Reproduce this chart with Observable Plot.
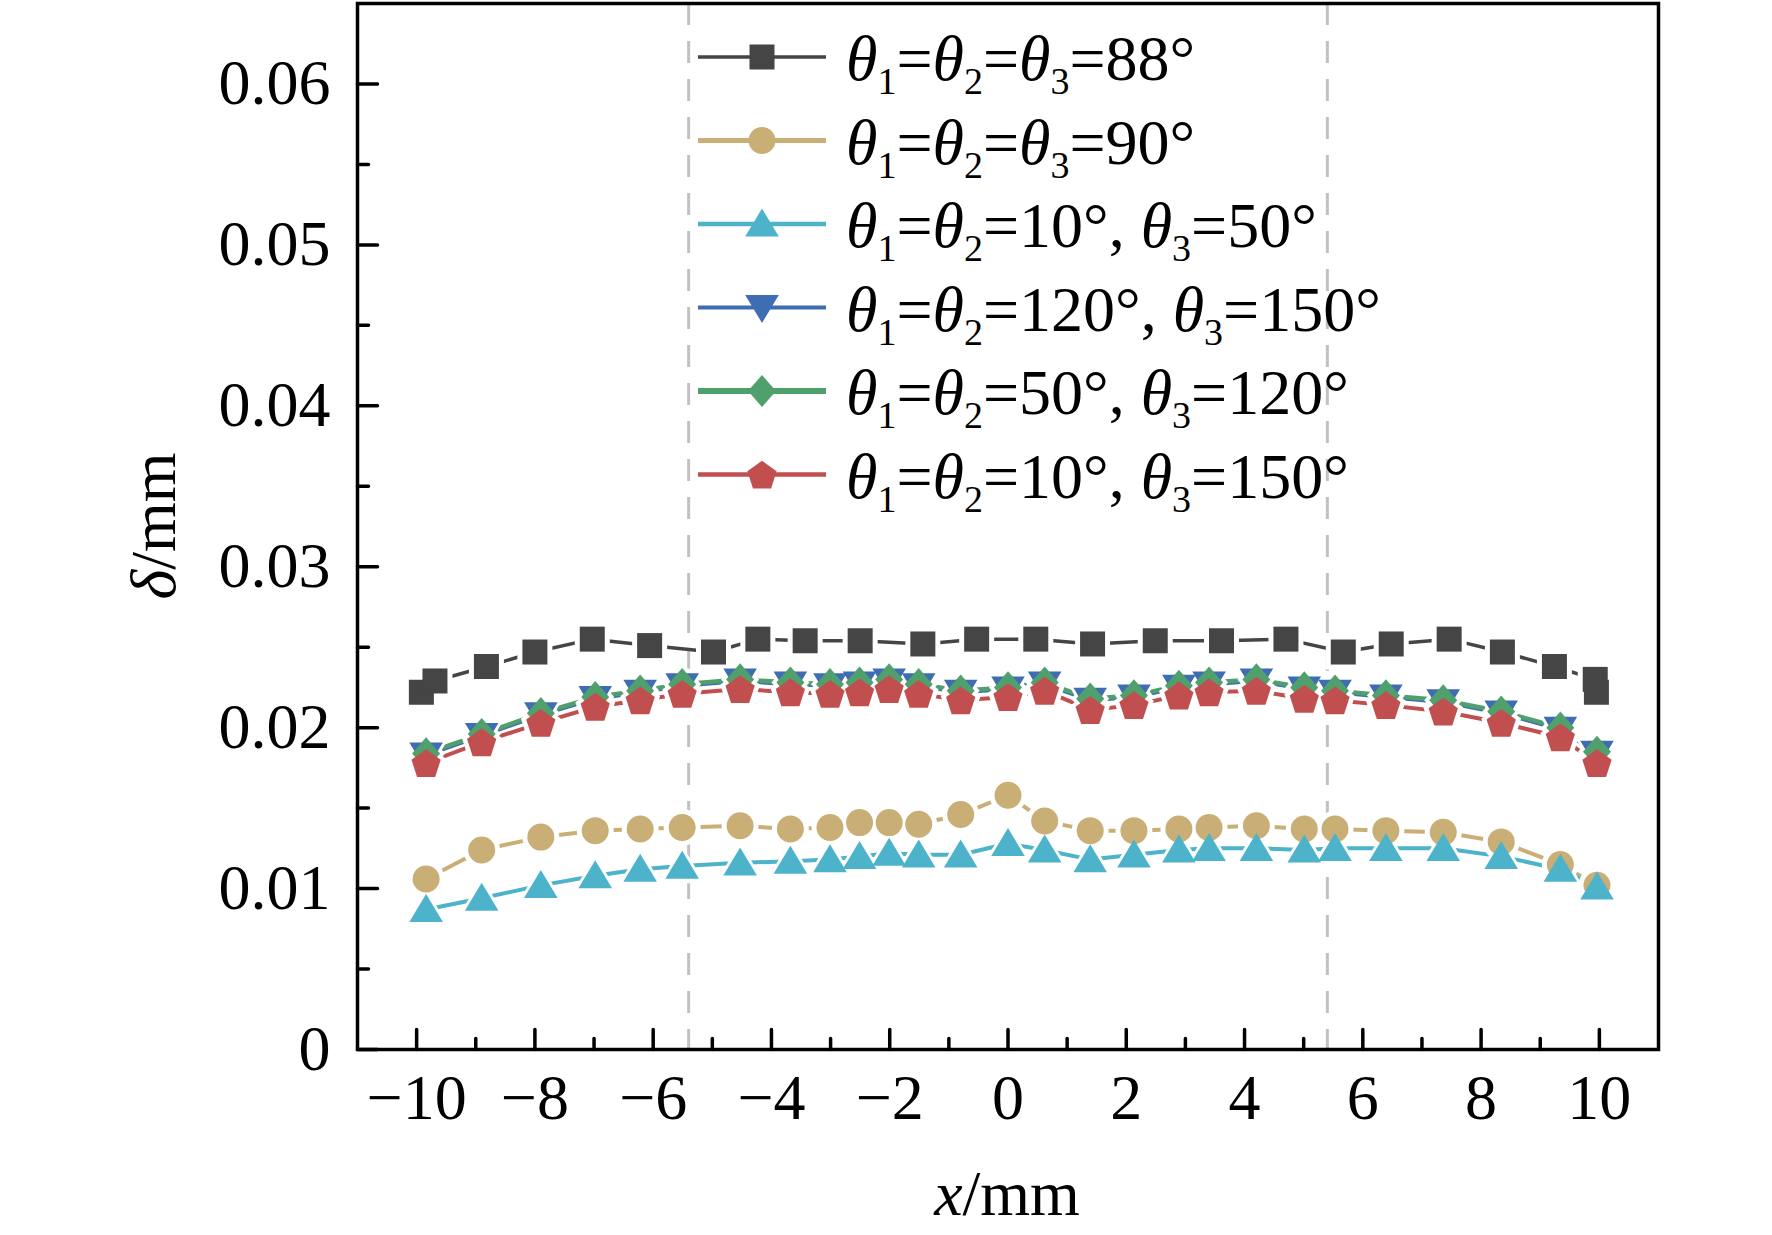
<!DOCTYPE html>
<html><head><meta charset="utf-8">
<script src="https://cdn.jsdelivr.net/npm/d3@7"></script>
<script src="https://cdn.jsdelivr.net/npm/@observablehq/plot@0.6"></script>
<style>html,body{margin:0;padding:0;background:#fff;} #chart{width:1772px;height:1235px;}</style>
</head><body><div id="chart"></div>
<script>
// ---------- data ----------
const squareX = [-9.92, -9.69, -8.82, -8.00, -7.03, -6.06, -4.98, -4.23, -3.43, -2.50, -1.44, -0.53, 0.47, 1.43, 2.49, 3.61, 4.70, 5.67, 6.48, 7.46, 8.36, 9.24, 9.93, 9.95];
const squareY = [0.0222, 0.0229, 0.0238, 0.0247, 0.0255, 0.0251, 0.0247, 0.0255, 0.0254, 0.0254, 0.0252, 0.0255, 0.0255, 0.0252, 0.0254, 0.0254, 0.0255, 0.0247, 0.0252, 0.0255, 0.0247, 0.0238, 0.0230, 0.0222];
const sharedX = [-9.84, -8.90, -7.90, -6.98, -6.22, -5.51, -4.53, -3.68, -3.01, -2.51, -2.01, -1.51, -0.80, 0.00, 0.62, 1.39, 2.13, 2.89, 3.40, 4.20, 5.01, 5.53, 6.39, 7.36, 8.34, 9.34, 9.96];
const tanY   = [0.0106, 0.0124, 0.0132, 0.0136, 0.0137, 0.0138, 0.0139, 0.0137, 0.0138, 0.0141, 0.0141, 0.0140, 0.0146, 0.0158, 0.0142, 0.0136, 0.0136, 0.0137, 0.0138, 0.0139, 0.0137, 0.0137, 0.0136, 0.0135, 0.0129, 0.0115, 0.0102];
const cyanY  = [0.0087, 0.0094, 0.0102, 0.0108, 0.0112, 0.0114, 0.0116, 0.0117, 0.0118, 0.0120, 0.0122, 0.0121, 0.0121, 0.0128, 0.0124, 0.0118, 0.0121, 0.0124, 0.0125, 0.0125, 0.0124, 0.0125, 0.0125, 0.0125, 0.0120, 0.0112, 0.0101];
const blueY  = [0.0183, 0.0195, 0.0208, 0.0218, 0.0222, 0.0226, 0.0229, 0.0227, 0.0226, 0.0227, 0.0229, 0.0226, 0.0222, 0.0224, 0.0227, 0.0217, 0.0219, 0.0225, 0.0227, 0.0229, 0.0224, 0.0222, 0.0219, 0.0216, 0.0209, 0.0199, 0.0184];
const greenY = [0.0184, 0.0196, 0.0209, 0.0219, 0.0223, 0.0227, 0.0230, 0.0228, 0.0227, 0.0228, 0.0230, 0.0227, 0.0223, 0.0225, 0.0228, 0.0218, 0.0220, 0.0226, 0.0228, 0.0230, 0.0225, 0.0223, 0.0220, 0.0217, 0.0210, 0.0200, 0.0185];
const redY   = [0.0178, 0.0191, 0.0203, 0.0213, 0.0217, 0.0221, 0.0224, 0.0222, 0.0221, 0.0222, 0.0224, 0.0221, 0.0217, 0.0219, 0.0223, 0.0211, 0.0214, 0.0220, 0.0222, 0.0223, 0.0218, 0.0217, 0.0214, 0.0210, 0.0203, 0.0194, 0.0178];

const seriesLabels = [
  "θ_1=θ_2=θ_3=88°",
  "θ_1=θ_2=θ_3=90°",
  "θ_1=θ_2=10°, θ_3=50°",
  "θ_1=θ_2=120°, θ_3=150°",
  "θ_1=θ_2=50°, θ_3=120°",
  "θ_1=θ_2=10°, θ_3=150°"
];
const seriesColors = ["#454545", "#c9ae76", "#4db3cb", "#3f6db3", "#4fa06d", "#c24f50"];

const xTicks = [-10, -8, -6, -4, -2, 0, 2, 4, 6, 8, 10];
const xMinorTicks = [-9, -7, -5, -3, -1, 1, 3, 5, 7, 9];
const yTicks = [0, 0.01, 0.02, 0.03, 0.04, 0.05, 0.06];
const yMinorTicks = [0.005, 0.015, 0.025, 0.035, 0.045, 0.055];
const dividers = [-5.4, 5.4];
const xLabel = "*x*/mm";
const yLabel = "δ/mm";

// ---------- symbols ----------
const rOf = s => Math.sqrt(s / Math.PI);
const symSquare = {draw(c, s) { const r = rOf(s); c.rect(-r, -r, 2 * r, 2 * r); }};
const symCircle = {draw(c, s) { const r = rOf(s); c.moveTo(r, 0); c.arc(0, 0, r, 0, 2 * Math.PI); c.closePath(); }};
const symTriUp = {draw(c, s) { const r = rOf(s); c.moveTo(0, -1.1 * r); c.lineTo(1.2 * r, 0.9 * r); c.lineTo(-1.2 * r, 0.9 * r); c.closePath(); }};
const symTriDown = {draw(c, s) { const r = rOf(s); c.moveTo(0, 1.1 * r); c.lineTo(1.2 * r, -0.9 * r); c.lineTo(-1.2 * r, -0.9 * r); c.closePath(); }};
const symDiamond = {draw(c, s) { const r = rOf(s); c.moveTo(0, -1.15 * r); c.lineTo(r, 0); c.lineTo(0, 1.15 * r); c.lineTo(-r, 0); c.closePath(); }};
const symPentagon = {draw(c, s) { const R = rOf(s) * 1.1; for (let i = 0; i < 5; i++) { const a = -Math.PI / 2 + i * 2 * Math.PI / 5; const px = R * Math.cos(a), py = R * Math.sin(a) + 0.1 * R; if (i) c.lineTo(px, py); else c.moveTo(px, py); } c.closePath(); }};

const series = [
  {x: squareX, y: squareY, symbol: symSquare, r: 12.5, lw: 3.5, llw: 3.5},
  {x: sharedX, y: tanY, symbol: symCircle, r: 13.5, lw: 4, llw: 5},
  {x: sharedX, y: cyanY, symbol: symTriUp, r: 14, lw: 4, llw: 4.5},
  {x: sharedX, y: blueY, symbol: symTriDown, r: 14, lw: 4, llw: 4},
  {x: sharedX, y: greenY, symbol: symDiamond, r: 14, lw: 4.5, llw: 6},
  {x: sharedX, y: redY, symbol: symPentagon, r: 14, lw: 4, llw: 4.5}
].map((s, i) => ({...s, color: seriesColors[i], label: seriesLabels[i], data: s.x.map((x, j) => ({x, y: s.y[j]}))}));

const fmtX = d => (d < 0 ? "\u2212" + Math.abs(d) : String(d));
const fmtY = d => (d === 0 ? "0" : d.toFixed(2));

// lines first, then white gaps around every marker, then the markers
const lineMarks = series.map(s => Plot.line(s.data, {x: "x", y: "y", stroke: s.color, strokeWidth: s.lw}));
const gapMarks = series.map(s => Plot.dot(s.data, {x: "x", y: "y", symbol: s.symbol, r: s.r + 5, fill: "white", stroke: "none"}));
const dotMarks = series.map(s => Plot.dot(s.data, {x: "x", y: "y", symbol: s.symbol, r: s.r, fill: s.color, stroke: "none"}));

const plot = Plot.plot({
  width: 1772, height: 1235,
  marginLeft: 357, marginRight: 114, marginTop: 3, marginBottom: 186,
  x: {domain: [-11, 11]},
  y: {domain: [0, 0.065]},
  style: {fontFamily: "'Liberation Serif', 'Times New Roman', serif", background: "white", color: "black"},
  marks: [
    Plot.ruleX(dividers, {stroke: "#c2c2c2", strokeWidth: 3, strokeDasharray: "22,16"}),
    ...lineMarks,
    ...gapMarks,
    ...dotMarks,
    Plot.frame({stroke: "black", strokeWidth: 3.5}),
    Plot.vector(xTicks, {x: d => d, frameAnchor: "bottom", length: 20, rotate: 0, anchor: "start", r: 0, stroke: "black", strokeWidth: 3.5}),
    Plot.vector(xMinorTicks, {x: d => d, frameAnchor: "bottom", length: 11, rotate: 0, anchor: "start", r: 0, stroke: "black", strokeWidth: 3.5}),
    Plot.vector(yTicks, {y: d => d, frameAnchor: "left", length: 20, rotate: 90, anchor: "start", r: 0, stroke: "black", strokeWidth: 3.5}),
    Plot.vector(yMinorTicks, {y: d => d, frameAnchor: "left", length: 11, rotate: 90, anchor: "start", r: 0, stroke: "black", strokeWidth: 3.5}),
    Plot.axisX({ticks: xTicks, tickSize: 0, tickPadding: 24, tickFormat: fmtX, fontSize: 64, label: null}),
    Plot.axisY({ticks: yTicks, tickSize: 0, tickPadding: 27, tickFormat: fmtY, fontSize: 64, label: null})
  ]
});

// ---------- rich text helper ----------
function richText(sel, str) {
  const tokens = str.match(/_\d|\*[^*]+\*|[θδ]|[^_θδ*]+/g);
  let back = 0;
  for (const tok of tokens) {
    let ts;
    if (tok[0] === "_") {
      ts = sel.append("tspan").attr("font-size", 38).attr("dy", 14).text(tok.slice(1));
      back = -14;
      continue;
    }
    if (tok[0] === "*") ts = sel.append("tspan").attr("font-style", "italic").text(tok.slice(1, -1));
    else if (tok === "θ" || tok === "δ") ts = sel.append("tspan").attr("font-style", "italic").text(tok);
    else ts = sel.append("tspan").text(tok);
    if (back) { ts.attr("dy", back); back = 0; }
  }
}

const svg = d3.select(plot);
const fam = "'Liberation Serif', 'Times New Roman', serif";

// legend
const lg = svg.append("g").attr("font-family", fam).attr("fill", "black").attr("text-anchor", "start");
series.forEach((s, i) => {
  const cy = 57 + 83.5 * i;
  lg.append("line").attr("x1", 698).attr("x2", 826).attr("y1", cy).attr("y2", cy)
    .attr("stroke", s.color).attr("stroke-width", s.llw);
  const p = d3.path(); s.symbol.draw(p, Math.PI * s.r * s.r);
  lg.append("path").attr("d", p.toString()).attr("transform", `translate(762,${cy})`).attr("fill", s.color);
  const t = lg.append("text").attr("x", 846).attr("y", cy + 23).attr("font-size", 64)
    .attr("fill", "black").attr("text-anchor", "start");
  richText(t, s.label);
});

// axis titles
const xt = svg.append("text").attr("x", 1007).attr("y", 1215).attr("text-anchor", "middle")
  .attr("font-family", fam).attr("font-size", 64).attr("fill", "black");
richText(xt, xLabel);
const yt = svg.append("text").attr("transform", "translate(175,526) rotate(-90)").attr("text-anchor", "middle")
  .attr("font-family", fam).attr("font-size", 64).attr("fill", "black");
richText(yt, yLabel);

document.getElementById("chart").appendChild(plot);
</script>
</body></html>
